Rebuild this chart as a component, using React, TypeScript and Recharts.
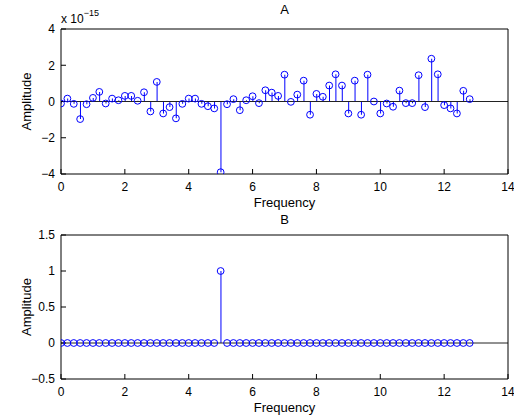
import React from 'react';
import {
  ComposedChart,
  Bar,
  Scatter,
  XAxis,
  YAxis,
  ReferenceLine,
  Label,
} from 'recharts';

// ---- data ----
const frequencies = [
  0, 0.2, 0.4, 0.6, 0.8, 1.0, 1.2, 1.4, 1.6, 1.8,
  2.0, 2.2, 2.4, 2.6, 2.8, 3.0, 3.2, 3.4, 3.6, 3.8,
  4.0, 4.2, 4.4, 4.6, 4.8, 5.0, 5.2, 5.4, 5.6, 5.8,
  6.0, 6.2, 6.4, 6.6, 6.8, 7.0, 7.2, 7.4, 7.6, 7.8,
  8.0, 8.2, 8.4, 8.6, 8.8, 9.0, 9.2, 9.4, 9.6, 9.8,
  10.0, 10.2, 10.4, 10.6, 10.8, 11.0, 11.2, 11.4, 11.6, 11.8,
  12.0, 12.2, 12.4, 12.6, 12.8,
];

// Panel A amplitudes, in units of 1e-15
const amplitudeA = [
  -0.11, 0.16, -0.13, -0.97, -0.15, 0.2, 0.53, -0.11, 0.16, 0.07,
  0.31, 0.31, 0.04, 0.51, -0.55, 1.08, -0.66, -0.31, -0.93, -0.13,
  0.16, 0.16, -0.13, -0.26, -0.38, -3.9, -0.15, 0.13, -0.48, 0.07,
  0.29, -0.09, 0.62, 0.49, 0.31, 1.48, -0.02, 0.38, 1.15, -0.73,
  0.42, 0.26, 0.88, 1.5, 0.88, -0.66, 1.15, -0.73, 1.48, 0.0,
  -0.66, -0.11, -0.29, 0.6, -0.09, -0.09, 1.45, -0.31, 2.36, 1.5,
  -0.2, -0.38, -0.66, 0.59, 0.13,
];

const amplitudeB = [
  0, 0, 0, 0, 0, 0, 0, 0, 0, 0,
  0, 0, 0, 0, 0, 0, 0, 0, 0, 0,
  0, 0, 0, 0, 0, 1, 0, 0, 0, 0,
  0, 0, 0, 0, 0, 0, 0, 0, 0, 0,
  0, 0, 0, 0, 0, 0, 0, 0, 0, 0,
  0, 0, 0, 0, 0, 0, 0, 0, 0, 0,
  0, 0, 0, 0, 0,
];

const xTicks = [0, 2, 4, 6, 8, 10, 12, 14];
const yTicksA = [-4, -2, 0, 2, 4];
const yTicksB = [-0.5, 0, 0.5, 1, 1.5];
const titleA = 'A';
const titleB = 'B';
const xLabel = 'Frequency';
const yLabel = 'Amplitude';
const exponentA = '−15';

const dataA = frequencies.map((f, i) => ({ f, v: amplitudeA[i] }));
const dataB = frequencies.map((f, i) => ({ f, v: amplitudeB[i] }));

const FONT = '"Liberation Sans", Arial, Helvetica, sans-serif';
const BLUE = '#0000ff';

const fmt = (v: number) => String(v).replace('-', '−');

const Circle = (p: any) => (
  <circle cx={p.cx} cy={p.cy} r={3.4} fill="none" stroke={BLUE} strokeWidth={1} />
);
const Nothing = () => <g />;

type PanelProps = {
  data: { f: number; v: number }[];
  yDomain: [number, number];
  yTicks: number[];
  title: string;
  height: number;
  marginTop: number;
  xAxisHeight: number;
  titleOffset: number;
  exponent?: string;
};

function Panel({ data, yDomain, yTicks, title, height, marginTop, xAxisHeight, titleOffset, exponent }: PanelProps) {
  const tickStyle = { fontSize: 12, fill: '#000', fontFamily: FONT };
  return (
    <ComposedChart
      width={514}
      height={height}
      data={data}
      margin={{ top: marginTop - 1, right: 5, bottom: 0, left: 0 }}
      style={{ fontFamily: FONT }}
    >
      <XAxis
        xAxisId="b"
        dataKey="f"
        type="number"
        domain={[0, 14]}
        ticks={xTicks}
        allowDataOverflow
        height={xAxisHeight}
        tickSize={-5}
        tickMargin={13}
        tick={tickStyle}
        tickFormatter={fmt}
        stroke="#000"
        tickLine={{ stroke: '#000' }}
        axisLine={{ stroke: '#000' }}
      >
        <Label
          content={(props: any) => {
            const vb = props.viewBox;
            return (
              <text x={vb.x + vb.width / 2} y={vb.y + 32.5} textAnchor="middle" fontSize={13} fontFamily={FONT} fill="#000">
                {xLabel}
              </text>
            );
          }}
        />
      </XAxis>
      <XAxis
        xAxisId="t"
        orientation="top"
        dataKey="f"
        type="number"
        domain={[0, 14]}
        ticks={xTicks}
        allowDataOverflow
        height={1}
        tickSize={-5}
        tick={false}
        stroke="#000"
        tickLine={{ stroke: '#000' }}
        axisLine={{ stroke: '#000' }}
      >
        <Label
          content={(props: any) => {
            const vb = props.viewBox;
            return (
              <text x={vb.x + vb.width / 2} y={vb.y + vb.height - titleOffset} textAnchor="middle" fontSize={13} fontFamily={FONT} fill="#000">
                {title}
              </text>
            );
          }}
        />
      </XAxis>
      <YAxis
        yAxisId="l"
        type="number"
        dataKey="v"
        domain={yDomain}
        ticks={yTicks}
        allowDataOverflow
        width={61}
        tickSize={-5}
        tickMargin={11}
        tick={tickStyle}
        tickFormatter={fmt}
        stroke="#000"
        tickLine={{ stroke: '#000' }}
        axisLine={{ stroke: '#000' }}
      >
        <Label
          content={(props: any) => {
            const vb = props.viewBox;
            const cy = vb.y + vb.height / 2;
            const x = vb.x + 30.5;
            return (
              <g>
                <text
                  x={x}
                  y={cy}
                  transform={`rotate(-90, ${x}, ${cy})`}
                  textAnchor="middle"
                  fontSize={13}
                  fontFamily={FONT}
                  fill="#000"
                >
                  {yLabel}
                </text>
                {exponent ? (
                  <text x={vb.x + vb.width} y={vb.y - 6} fontSize={12} fontFamily={FONT} fill="#000">
                    x 10
                    <tspan dy={-7} fontSize={9}>
                      {exponent}
                    </tspan>
                  </text>
                ) : null}
              </g>
            );
          }}
        />
      </YAxis>
      <YAxis
        yAxisId="r"
        orientation="right"
        type="number"
        dataKey="v"
        domain={yDomain}
        ticks={yTicks}
        allowDataOverflow
        width={1}
        tickSize={-5}
        tick={false}
        stroke="#000"
        tickLine={{ stroke: '#000' }}
        axisLine={{ stroke: '#000' }}
      />
      <ReferenceLine xAxisId="b" yAxisId="l" y={0} stroke="#222" strokeWidth={1} />
      <Bar xAxisId="b" yAxisId="l" dataKey="v" barSize={1} fill={BLUE} isAnimationActive={false} />
      <Scatter xAxisId="b" yAxisId="l" dataKey="v" shape={Circle} isAnimationActive={false} />
      <Scatter xAxisId="t" yAxisId="r" dataKey="v" shape={Nothing} isAnimationActive={false} />
    </ComposedChart>
  );
}

export default function App() {
  return (
    <div style={{ position: 'absolute', left: 0, top: 0, width: 514, height: 419, background: '#fff' }}>
      <div style={{ position: 'absolute', left: 0, top: 0 }}>
        <Panel
          data={dataA}
          yDomain={[-4, 4]}
          yTicks={yTicksA}
          title={titleA}
          height={210}
          marginTop={29}
          xAxisHeight={36}
          titleOffset={15.5}
          exponent={exponentA}
        />
      </div>
      <div style={{ position: 'absolute', left: 0, top: 210 }}>
        <Panel
          data={dataB}
          yDomain={[-0.5, 1.5]}
          yTicks={yTicksB}
          title={titleB}
          height={209}
          marginTop={25}
          xAxisHeight={40}
          titleOffset={11.5}
        />
      </div>
    </div>
  );
}
